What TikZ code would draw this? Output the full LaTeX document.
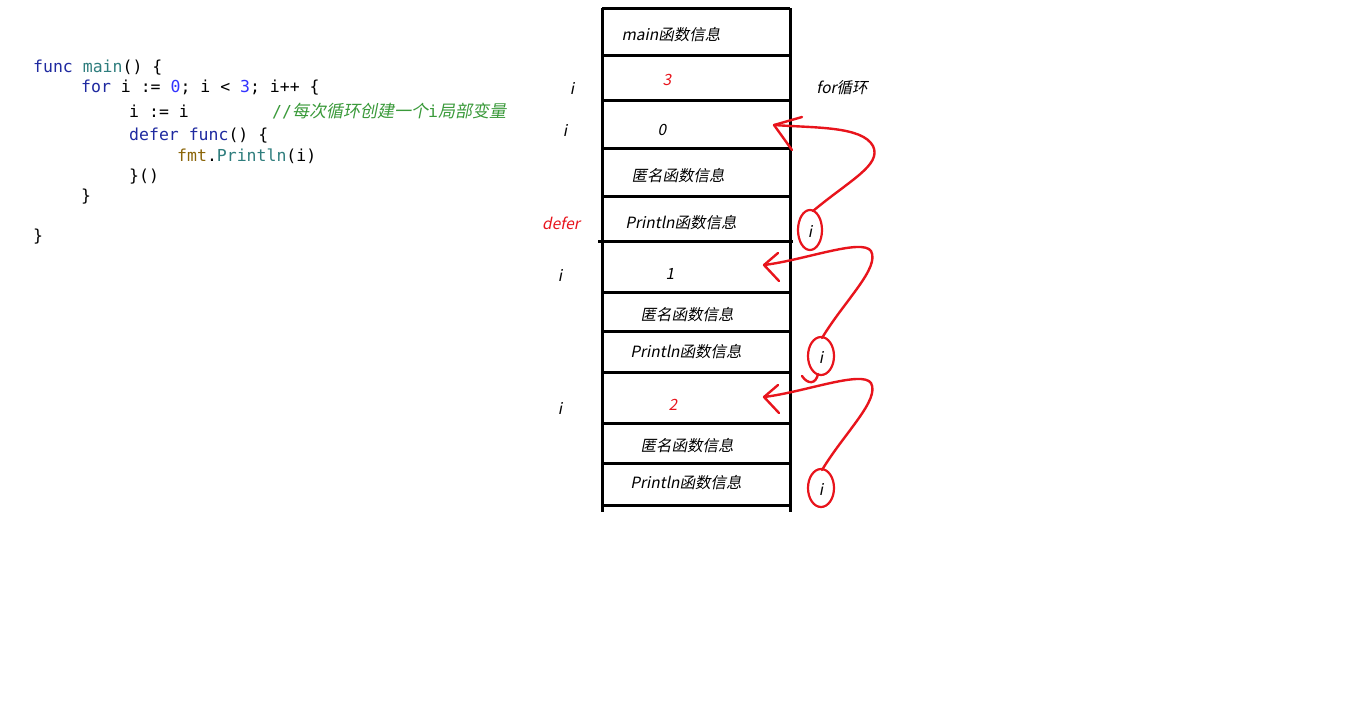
\documentclass[tikz,border=0pt]{standalone}
\usepackage{fontspec}
\setmonofont{DejaVu Sans Mono}
\newfontfamily\cjk[FakeSlant=0.2]{Noto Sans CJK SC}
\definecolor{kw}{HTML}{1F2AA0}
\definecolor{fn}{HTML}{2E7D7D}
\definecolor{nm}{HTML}{3333FF}
\definecolor{pk}{HTML}{8B6508}
\definecolor{cm}{HTML}{3A9A3A}
\definecolor{rd}{HTML}{E8141C}
\begin{document}
\begin{tikzpicture}[x=1pt,y=-1pt,
  code/.style={anchor=base west,inner sep=0pt,font=\fontsize{16.5}{18}\selectfont\ttfamily},
  lbl/.style={inner sep=0pt,font=\fontsize{15.5}{17}\selectfont\cjk},
  stk/.style={line width=3pt},
  rline/.style={draw=rd,line width=2.4pt,line cap=round,line join=round}]
\useasboundingbox[fill=white] (0,0) rectangle (1360,705);
% code
\node[code] (c1) at (33,72) {{\color{kw}func} {\color{fn}main}() \{};
\node[code] (c2) at (81,92) {{\color{kw}for} i := {\color{nm}0}; i < {\color{nm}3}; i++ \{};
\node[code] (c3) at (129,117) {i := i};
\node[code,text=cm] (c3c) at (272,117) {//{\fontsize{17}{18}\selectfont\cjk 每次循环创建一个}i{\fontsize{17}{18}\selectfont\cjk 局部变量}};
\node[code] (c4) at (129,140) {{\color{kw}defer} {\color{kw}func}() \{};
\node[code] (c5) at (177,161) {{\color{pk}fmt}.{\color{fn}Println}(i)};
\node[code] (c6) at (129,181) {\}()};
\node[code] (c7) at (81,201) {\}};
\node[code] (c8) at (33,241) {\}};
% stack
\draw[stk] (602,8) -- (602,512);
\draw[stk] (790,8) -- (790,512);
\foreach \yy in {8,55,100,148,196,292,331,372,423,463,505}
  \draw[stk] (602,\yy) -- (790,\yy);
\draw[stk] (598,241) -- (793,241);
% stack labels
\node[lbl] (m) at (671,35) {main函数信息};
\node[lbl,text=rd] (v3) at (667,80) {3};
\node[lbl] (i1) at (572,88) {i};
\node[lbl] (for) at (842,88) {for循环};
\node[lbl] (i2) at (565,130) {i};
\node[lbl] (v0) at (662,130) {0};
\node[lbl] (a1) at (678,176) {匿名函数信息};
\node[lbl,text=rd] (df) at (561,223) {defer};
\node[lbl] (p1) at (681,223) {Println函数信息};
\node[lbl] (i3) at (560,275) {i};
\node[lbl] (v1) at (670,274) {1};
\node[lbl] (a2) at (687,315) {匿名函数信息};
\node[lbl] (p2) at (686,352) {Println函数信息};
\node[lbl] (i4) at (560,408) {i};
\node[lbl,text=rd] (v2) at (673,405) {2};
\node[lbl] (a3) at (687,446) {匿名函数信息};
\node[lbl] (p3) at (686,483) {Println函数信息};
% circled i
\draw[rd,line width=2.2pt] (810,230) ellipse [x radius=12,y radius=20];
\node[lbl] (r1) at (810,231) {i};
\draw[rd,line width=2.2pt] (821,356) ellipse [x radius=13,y radius=19];
\node[lbl] (r2) at (821,357) {i};
\draw[rd,line width=2.2pt] (821,488) ellipse [x radius=13,y radius=19];
\node[lbl] (r3) at (821,489) {i};
% arrow tips
\coordinate (t1) at (774,125);
\coordinate (t2) at (764,265);
\coordinate (t3) at (764,397);
% red connectors
\draw[rline] (813,211) .. controls (850,180) and (882,165) .. (873,146) .. controls (862,126) and (815,128) .. (t1);
\draw[rline] (t1) -- ++(28,-8);
\draw[rline] (t1) -- ++(18,25);
\draw[rline] (822,338) .. controls (845,300) and (880,268) .. (871,251) .. controls (862,238) and (805,260) .. (t2);
\draw[rline] (t2) -- ++(14,-12);
\draw[rline] (t2) -- ++(15,16);
\draw[rline] (802,376) .. controls (808,385) and (816,384) .. (818,374);
\draw[rline] (822,470) .. controls (845,432) and (880,400) .. (871,383) .. controls (862,370) and (805,392) .. (t3);
\draw[rline] (t3) -- ++(14,-12);
\draw[rline] (t3) -- ++(15,16);
\end{tikzpicture}
\end{document}
